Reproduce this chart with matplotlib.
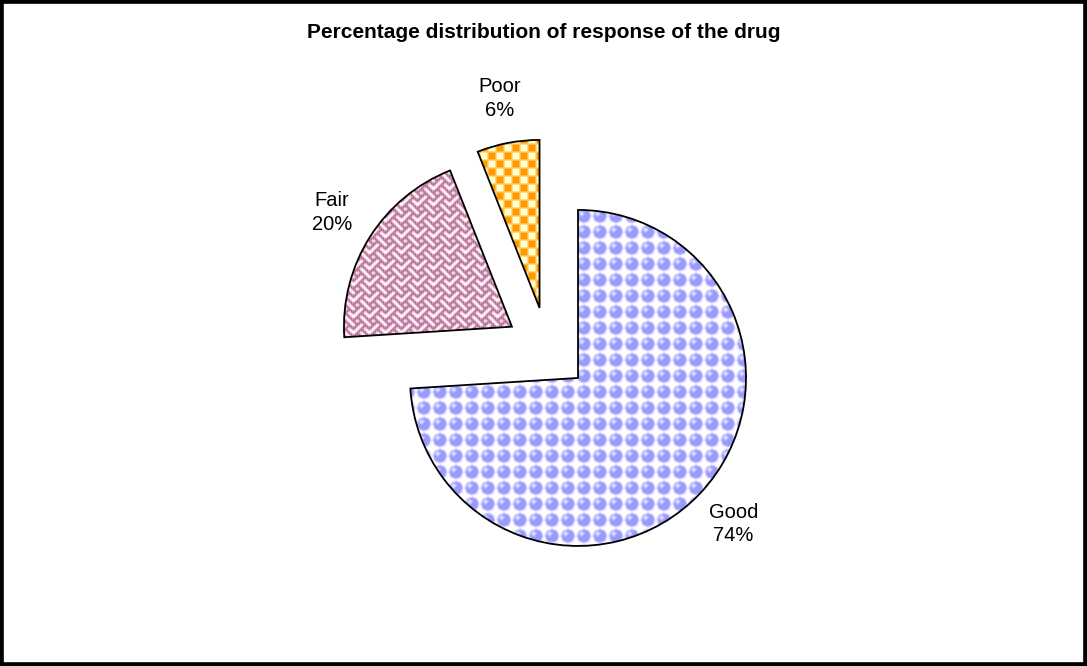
import numpy as np
import matplotlib
matplotlib.use("Agg")
import matplotlib.pyplot as plt
from matplotlib.patches import Rectangle

plt.rcParams['font.family'] = ['Liberation Sans', 'DejaVu Sans']

categories = ["Good", "Fair", "Poor"]
percent = [74, 20, 6]

W, H = 1087, 666
fig = plt.figure(figsize=(W / 100, H / 100), dpi=100)
ax = fig.add_axes([0, 0, 1, 1])

yy, xx = np.mgrid[0:H, 0:W]


def hexrgb(c):
    return np.array(matplotlib.colors.to_rgb(c))


def soften(img):
    # light 3x3 box blur so the fills aren't pixel-hard
    p = np.pad(img, ((1, 1), (1, 1), (0, 0)), mode="edge")
    out = np.zeros_like(img)
    for dy in range(3):
        for dx in range(3):
            out += p[dy:dy + H, dx:dx + W]
    return out / 9


def sphere_fill():
    img = np.ones((H, W, 3))
    u = (xx % 16) - 7.5
    v = (yy % 16) - 7.5
    ball = np.hypot(u, v) < 6.6
    img[ball] = hexrgb("#9999FF")
    shine = np.hypot(u + 2.2, v + 2.2) < 2.4
    img[ball & shine] = hexrgb("#E0E0FF")
    return soften(img)


def weave_fill():
    rows = [0x88, 0x54, 0x22, 0x45, 0x88, 0x14, 0x22, 0x51]
    tile = np.array([[(r >> (7 - b)) & 1 for b in range(8)] for r in rows], dtype=bool)
    mask = tile[(yy // 2) % 8, (xx // 2) % 8]
    mask = mask | np.roll(mask, 1, axis=1)
    img = np.ones((H, W, 3))
    img[mask] = hexrgb("#AA4A7E")
    return soften(img)


def checker_fill():
    mask = ((xx // 8) + (yy // 8)) % 2 == 0
    img = np.empty((H, W, 3))
    img[:] = hexrgb("#FFFFCC")
    img[mask] = hexrgb("#FF9900")
    return soften(img)


labels = [f"{c}\n{p}%" for c, p in zip(categories, percent)]
wedges, texts = ax.pie(
    percent, labels=labels, startangle=90, counterclock=False,
    radius=168, center=(547.4, 316.8), explode=[42, 42, 42],
    labeldistance=1.27, frame=True,
    wedgeprops=dict(facecolor="none", edgecolor="black", linewidth=1.3, zorder=3),
    textprops=dict(fontsize=14.5, ha="center", multialignment="center",
                   linespacing=1.3),
)

for w, fill in zip(wedges, [sphere_fill(), weave_fill(), checker_fill()]):
    im = ax.imshow(fill, extent=(0, W, 0, H), origin="upper", zorder=2,
                   interpolation="nearest")
    im.set_clip_path(w)

ax.set_xlim(0, W)
ax.set_ylim(0, H)
ax.set_aspect("equal")
ax.axis("off")

fig.text(0.5, 1 - 33 / H, "Percentage distribution of response of the drug",
         ha="center", va="center", fontsize=15, fontweight="bold")

fig.patches.append(Rectangle((0, 0), 1, 1, transform=fig.transFigure,
                             fill=False, edgecolor="black", linewidth=5.5))

fig.savefig("out.png", dpi=100)
